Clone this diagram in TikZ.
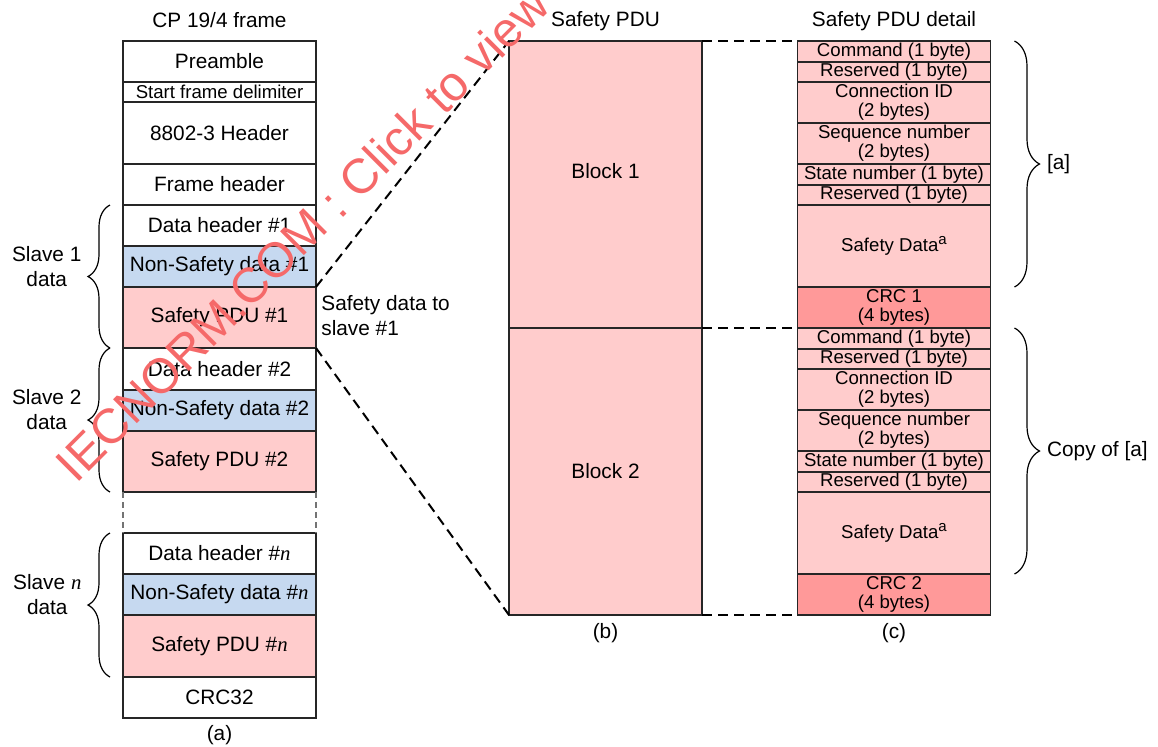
\documentclass[tikz,border=0pt]{standalone}
\usepackage{fontspec}
\setmainfont{Liberation Sans}
\newfontfamily\tnr{Liberation Serif}
\usetikzlibrary{decorations.pathreplacing,positioning}
\definecolor{pdupink}{RGB}{255,204,204}
\definecolor{nsblue}{RGB}{198,217,240}
\definecolor{crcred}{RGB}{255,153,153}
\definecolor{wmred}{RGB}{245,105,105}

\begin{document}
\begin{tikzpicture}[x=0.5pt,y=-0.5pt,
  cell/.style={draw=black!85, line width=0.7pt, inner sep=0pt, outer sep=0pt,
    minimum width=96.5pt, align=center, font=\fontsize{10.4}{12}\selectfont},
  small/.style={cell, font=\fontsize{9.3}{9.6}\selectfont},
  safe/.style={fill=pdupink},
  nonsafe/.style={fill=nsblue},
  crcbox/.style={fill=crcred},
  lbl/.style={inner sep=0pt, align=center, font=\fontsize{10.4}{12.5}\selectfont},
  dsh/.style={line width=1pt, dash pattern=on 5pt off 3pt},
  gapline/.style={draw=black!55, line width=0.6pt, dash pattern=on 3pt off 2pt},
  brc/.style={decorate, decoration={brace, amplitude=#1}, line width=0.6pt},
  wm/.style={text=wmred, inner sep=0pt, font=\fontsize{24.5}{26}\selectfont}]
\useasboundingbox (0,0) rectangle (1158,746);

\node[lbl] (ttla) at (219.5,20) {CP 19/4 frame};
\node[cell, minimum height=20.5pt] (pre) at (219.5,61.5) {Preamble};
\node[cell, minimum height=10pt, font=\fontsize{9.3}{10}\selectfont] (sfd) at (219.5,92) {Start frame delimiter};
\node[cell, minimum height=31pt] (hdr) at (219.5,133) {8802-3 Header};
\node[cell, minimum height=20.5pt] (fh) at (219.5,184.5) {Frame header};
\node[cell, minimum height=20.5pt] (dh1) at (219.5,225.5) {Data header \#1};
\node[cell, nonsafe, minimum height=20.5pt] (ns1) at (219.5,266.5) {Non-Safety data \#1};
\node[cell, safe, minimum height=30.5pt] (sp1) at (219.5,317.5) {Safety PDU \#1};
\node[cell, minimum height=21pt] (dh2) at (219.5,369) {Data header \#2};
\node[cell, nonsafe, minimum height=20.5pt] (ns2) at (219.5,410.5) {Non-Safety data \#2};
\node[cell, safe, minimum height=30.5pt] (sp2) at (219.5,461.5) {Safety PDU \#2};
\node[cell, minimum height=20.5pt] (dhn) at (219.5,553.5) {Data header \#{\tnr\itshape n}};
\node[cell, nonsafe, minimum height=20.5pt] (nsn) at (219.5,594.5) {Non-Safety data \#{\tnr\itshape n}};
\node[cell, safe, minimum height=31pt] (spn) at (219.5,646) {Safety PDU \#{\tnr\itshape n}};
\node[cell, minimum height=20.5pt] (crc) at (219.5,697.5) {CRC32};
\node[lbl] (capa) at (219.5,735) {(a)};
\draw[gapline] (sp2.south west) -- (dhn.north west);
\draw[gapline] (sp2.south east) -- (dhn.north east);

\draw[brc=11pt] ([xshift=-6.5pt]sp1.south west) -- ([xshift=-6.5pt]dh1.north west)
  node[lbl, midway, left=14pt, yshift=5pt] (sl1) {Slave 1\\data};
\draw[brc=11pt] ([xshift=-6.5pt]sp2.south west) -- ([xshift=-6.5pt]dh2.north west)
  node[lbl, midway, left=14pt, yshift=5pt] (sl2) {Slave 2\\data};
\draw[brc=11pt] ([xshift=-6.5pt]spn.south west) -- ([xshift=-6.5pt]dhn.north west)
  node[lbl, midway, left=14pt, yshift=5pt] (sln) {Slave {\tnr\itshape n}\\data};

\node[lbl, anchor=west, align=left] (todata) at (321,316) {Safety data to\\slave \#1};

\node[lbl] (ttlb) at (605.5,21) {Safety PDU};
\node[cell, safe, minimum height=143.5pt, label={[lbl, yshift=6.5pt]center:Block 1}] (blk1) at (605.5,184.5) {};
\node[cell, safe, minimum height=143.5pt] (blk2) at (605.5,471.5) {Block 2};
\node[lbl] (capb) at (605.5,633) {(b)};

\node[lbl] (ttlc) at (894,21) {Safety PDU detail};
\node[small, safe, minimum height=10.5pt] (cmd1) at (894,51.5) {Command (1 byte)};
\node[small, safe, minimum height=10pt] (rsa1) at (894,72) {Reserved (1 byte)};
\node[small, safe, minimum height=20.5pt] (cid1) at (894,102.5) {Connection ID\\(2 bytes)};
\node[small, safe, minimum height=20.5pt] (seq1) at (894,143.5) {Sequence number\\(2 bytes)};
\node[small, safe, minimum height=10.5pt] (stn1) at (894,174.5) {State number (1 byte)};
\node[small, safe, minimum height=10pt] (rsb1) at (894,195) {Reserved (1 byte)};
\node[small, safe, minimum height=41pt] (sd1) at (894,246) {Safety Data\raisebox{3.5pt}{\fontsize{7.5}{8}\selectfont a}};
\node[small, crcbox, minimum height=20.5pt] (crc1) at (894,307.5) {CRC 1\\(4 bytes)};
\node[small, safe, minimum height=10.5pt] (cmd2) at (894,338.5) {Command (1 byte)};
\node[small, safe, minimum height=10pt] (rsa2) at (894,359) {Reserved (1 byte)};
\node[small, safe, minimum height=20.5pt] (cid2) at (894,389.5) {Connection ID\\(2 bytes)};
\node[small, safe, minimum height=20.5pt] (seq2) at (894,430.5) {Sequence number\\(2 bytes)};
\node[small, safe, minimum height=10.5pt] (stn2) at (894,461.5) {State number (1 byte)};
\node[small, safe, minimum height=10pt] (rsb2) at (894,482) {Reserved (1 byte)};
\node[small, safe, minimum height=41pt] (sd2) at (894,533) {Safety Data\raisebox{3.5pt}{\fontsize{7.5}{8}\selectfont a}};
\node[small, crcbox, minimum height=20.5pt] (crc2) at (894,594.5) {CRC 2\\(4 bytes)};
\node[lbl] (capc) at (894,633) {(c)};

\draw[brc=12.5pt] ([xshift=12pt]cmd1.north east) -- ([xshift=12pt]sd1.south east)
  node[lbl, midway, right=16pt] (cpa) {[a]};
\draw[brc=12.5pt] ([xshift=12pt]cmd2.north east) -- ([xshift=12pt]sd2.south east)
  node[lbl, midway, right=16pt] (cpb) {Copy of [a]};

\draw[dsh] (sp1.north east) -- (blk1.north west);
\draw[dsh] (sp1.south east) -- (blk2.south west);
\draw[dsh] (blk1.north east) -- ([xshift=-1pt]cmd1.north west);
\draw[dsh] (blk1.south east) -- ([xshift=-1pt]cmd2.north west);
\draw[dsh] (blk2.south east) -- ([xshift=-1pt]crc2.south west);

\node[wm, rotate=45] (mark) at (302,234) {IECNORM.COM : Click to view};
\end{tikzpicture}
\end{document}
